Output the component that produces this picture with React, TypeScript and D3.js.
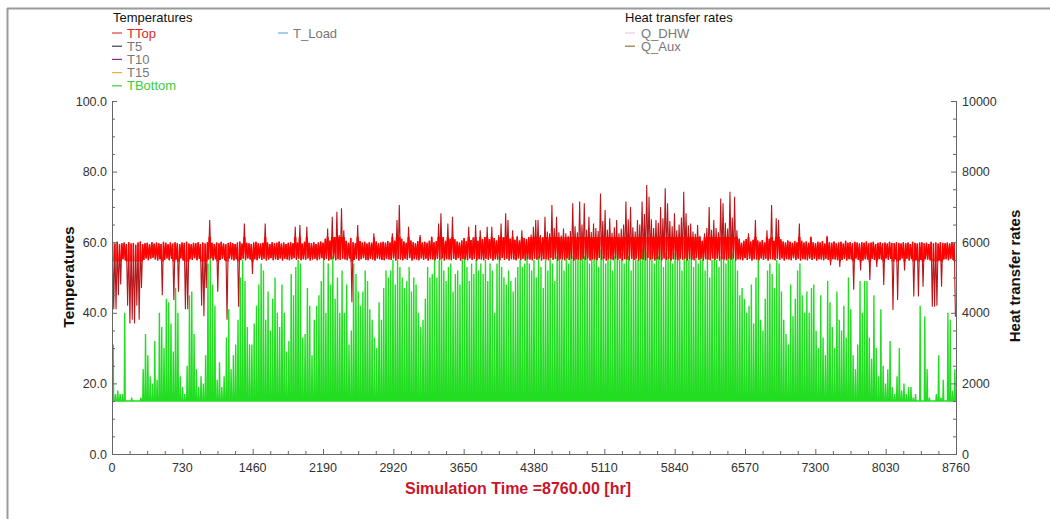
import React from "react";
import * as d3 from "d3";

// TRNSYS online plotter, one year of hourly output per day
const hoursInYear = 8760;
const xTicks = [0, 730, 1460, 2190, 2920, 3650, 4380, 5110, 5840, 6570, 7300, 8030, 8760];
const leftTicks = [0, 20, 40, 60, 80, 100];
const rightTicks = [0, 2000, 4000, 6000, 8000, 10000];

const tempSeries = ["TTop", "T5", "T10", "T15", "TBottom"];
const tempColors = ["#e03a3a", "#3a3a55", "#8a2a8a", "#f0b040", "#3ccc3c"];
const tempTextColors = ["#e02828", "#777777", "#777777", "#777777", "#3ccc3c"];
const heatSeries = ["Q_DHW", "Q_Aux"];
const heatColors = ["#f2c6e2", "#8b7a3a"];

// TBottom: minimum level and daily peak (deg C)
const tBottomBase = 15;
const tBottomPeak = [
  31, 17, 18, 17, 17, 40, 15, 15, 16, 15, 15, 15, 16, 24, 34, 28, 22, 20, 32, 21,
  40, 36, 30, 44, 43, 37, 29, 47, 40, 22, 19, 17, 25, 45, 46, 34, 24, 19, 22, 20,
  28, 54, 56, 48, 42, 21, 26, 19, 22, 33, 41, 24, 28, 31, 38, 50, 55, 49, 36, 31,
  31, 37, 42, 48, 54, 52, 38, 46, 35, 44, 50, 40, 36, 48, 40, 29, 32, 51, 45, 53,
  55, 54, 33, 34, 47, 42, 28, 38, 42, 45, 49, 56, 40, 54, 48, 56, 44, 50, 40, 52,
  40, 48, 31, 35, 54, 51, 46, 42, 46, 52, 49, 41, 38, 33, 30, 43, 38, 47, 52, 50,
  52, 55, 48, 55, 53, 50, 47, 49, 53, 46, 50, 48, 40, 36, 38, 44, 53, 50, 51, 55,
  50, 55, 56, 52, 49, 53, 54, 46, 51, 52, 48, 55, 56, 53, 49, 54, 51, 55, 52, 54,
  51, 55, 49, 54, 52, 40, 54, 56, 53, 50, 48, 52, 49, 46, 50, 53, 55, 53, 54, 56,
  54, 52, 55, 50, 56, 53, 47, 55, 52, 57, 54, 49, 56, 58, 55, 52, 57, 54, 58, 56,
  59, 57, 55, 60, 56, 58, 54, 61, 57, 55, 53, 58, 56, 54, 57, 55, 52, 56, 58, 55,
  57, 54, 58, 56, 52, 57, 59, 55, 60, 58, 61, 57, 55, 58, 54, 57, 56, 59, 53, 57,
  56, 58, 54, 57, 55, 59, 52, 56, 58, 55, 57, 53, 56, 54, 57, 55, 52, 56, 50, 55,
  57, 55, 53, 56, 58, 54, 60, 62, 57, 55, 52, 45, 47, 44, 40, 42, 48, 37, 50, 56,
  38, 35, 44, 52, 54, 51, 47, 55, 54, 46, 38, 34, 31, 48, 39, 44, 52, 54, 45, 40,
  46, 40, 47, 48, 35, 30, 45, 33, 28, 49, 43, 36, 30, 46, 38, 35, 42, 33, 50, 41,
  28, 24, 31, 49, 40, 49, 49, 33, 27, 45, 30, 22, 41, 25, 20, 24, 32, 19, 17, 22,
  30, 18, 20, 17, 19, 19, 16, 17, 15, 42, 15, 39, 24, 16, 15, 15, 17, 28, 16, 21,
  15, 40, 38, 18, 24,
];

// TTop: daily maximum and minimum (deg C)
const tTopHigh = [
  59.8, 59.6, 60.1, 59.4, 59.7, 59.9, 59.5, 60.0, 59.6, 59.8, 59.3, 59.9, 60.2, 59.5, 59.7, 59.8, 59.4, 60.0, 59.6, 59.9,
  59.7, 59.5, 60.1, 59.8, 59.4, 59.9, 59.6, 60.0, 59.7, 59.5, 59.9, 59.8, 60.1, 59.6, 59.4, 59.8, 59.7, 60.0, 59.5, 59.9,
  59.6, 60.0, 66.3, 59.8, 59.5, 59.9, 59.7, 60.1, 59.6, 59.4, 59.8, 60.0, 59.7, 59.5, 59.9, 60.2, 59.6, 65.3, 59.8, 59.7,
  59.5, 59.9, 60.1, 59.7, 59.6, 59.8, 65.3, 59.9, 59.5, 60.0, 59.7, 59.8, 60.2, 59.6, 59.9, 59.5, 59.8, 60.0, 59.7, 64.4,
  59.9, 64.9, 59.6, 60.1, 64.4, 59.8, 59.7, 60.0, 59.5, 59.9, 60.2, 59.8, 61.0, 63.9, 60.5, 67.2, 61.5, 68.6, 62.0, 69.6,
  63.4, 60.4, 59.8, 61.2, 60.0, 59.7, 64.9, 60.3, 59.9, 60.1, 59.6, 60.0, 59.8, 62.5, 60.2, 59.7, 59.9, 60.1, 59.8, 60.3,
  59.9, 62.5, 60.4, 66.3, 70.5, 61.0, 60.2, 59.8, 64.4, 60.5, 60.0, 59.7, 60.3, 62.0, 59.9, 60.1, 59.8, 60.4, 61.6, 60.0,
  60.3, 65.3, 68.2, 61.5, 60.4, 65.3, 61.0, 67.2, 60.8, 60.2, 59.9, 60.5, 61.2, 60.3, 64.4, 60.6, 61.3, 64.9, 60.4, 63.4,
  60.8, 61.5, 64.4, 60.9, 64.4, 61.2, 60.5, 62.0, 65.3, 61.4, 68.2, 66.3, 61.0, 63.4, 60.7, 61.8, 60.5, 63.4, 61.2, 60.9,
  61.5, 62.2, 64.4, 66.3, 66.3, 62.0, 61.4, 67.2, 63.0, 62.5, 70.5, 64.0, 67.2, 62.8, 61.9, 63.9, 62.5, 61.8, 63.2, 71.0,
  64.5, 62.8, 71.5, 65.0, 71.0, 63.5, 67.2, 62.9, 65.3, 64.0, 63.2, 73.8, 66.0, 69.1, 63.5, 66.8, 62.7, 64.2, 66.3, 62.5,
  63.8, 65.0, 71.5, 66.5, 70.0, 64.2, 63.0, 66.3, 65.0, 71.5, 68.0, 76.2, 72.9, 66.5, 64.0, 66.3, 65.5, 70.0, 66.8, 75.3,
  71.0, 66.0, 64.5, 68.2, 63.4, 65.0, 67.0, 74.3, 68.2, 64.8, 65.3, 63.0, 62.4, 64.9, 61.8, 60.4, 62.5, 64.0, 70.0, 63.5,
  66.3, 64.0, 62.8, 72.4, 71.0, 65.5, 63.9, 74.3, 67.0, 72.9, 63.4, 61.0, 59.8, 60.4, 60.9, 62.5, 60.2, 60.7, 66.3, 60.5,
  60.1, 60.6, 59.9, 63.4, 61.0, 70.5, 60.4, 66.8, 66.3, 60.8, 60.2, 59.9, 60.5, 60.1, 59.8, 60.3, 60.0, 65.3, 60.4, 59.9,
  60.2, 59.8, 61.6, 60.0, 59.7, 60.1, 59.9, 60.3, 59.6, 61.8, 60.0, 59.8, 60.2, 59.7, 59.9, 60.1, 59.6, 60.4, 59.8, 60.0,
  59.7, 60.1, 59.9, 59.6, 60.0, 59.8, 60.2, 59.7, 59.9, 60.1, 59.5, 59.8, 60.0, 59.7, 59.9, 59.6, 60.1, 59.8, 59.7, 60.0,
  59.8, 59.6, 60.0, 59.7, 59.9, 59.5, 60.1, 59.8, 59.6, 59.9, 60.0, 59.7, 59.8, 59.5, 60.1, 59.7, 59.9, 59.6, 60.0, 59.8,
  59.7, 59.9, 59.6, 60.0, 59.8,
];
const tTopLow = [
  41, 41, 45, 48, 55.2, 54.8, 42, 37, 38, 37, 42, 38, 47, 55.0, 55.4, 54.9, 55.3, 55.6, 55.1, 54.8,
  55.2, 45, 55.0, 55.4, 54.9, 55.3, 43.6, 55.1, 46, 55.4, 54.8, 41, 41, 55.2, 55.0, 55.5, 54.9, 55.3, 42, 39,
  47, 55.1, 55.4, 54.8, 55.2, 46, 55.0, 55.3, 54.9, 38, 55.4, 55.1, 54.8, 55.2, 41.7, 55.0, 55.3, 54.9, 55.4, 55.1,
  51, 55.2, 54.9, 55.4, 55.0, 55.3, 54.8, 55.1, 55.5, 54.9, 55.2, 55.0, 55.4, 54.8, 55.3, 55.1, 54.9, 55.2, 55.5, 55.0,
  55.3, 54.9, 55.2, 55.0, 55.4, 54.8, 55.1, 55.3, 54.9, 55.2, 55.5, 55.0, 55.3, 54.8, 55.1, 55.4, 54.9, 55.2, 55.0, 55.3,
  55.1, 54.9, 55.4, 43, 55.0, 55.3, 54.8, 55.2, 55.5, 55.0, 54.9, 55.3, 55.1, 54.8, 55.4, 55.2, 55.0, 54.9, 55.3, 55.1,
  55.0, 55.4, 54.8, 55.2, 55.1, 54.9, 55.3, 55.0, 55.5, 54.8, 55.2, 55.1, 54.9, 55.4, 55.0, 55.3, 54.8, 55.2, 55.1, 54.9,
  55.3, 55.0, 55.4, 54.8, 55.2, 55.1, 54.9, 55.3, 55.0, 55.5, 54.8, 55.2, 55.1, 54.9, 55.4, 55.0, 55.3, 54.8, 55.2, 55.1,
  54.9, 55.3, 55.0, 55.4, 54.8, 55.2, 55.1, 54.9, 55.5, 55.0, 55.3, 54.8, 55.2, 55.1, 54.9, 55.4, 55.0, 55.3, 54.8, 55.2,
  55.1, 54.9, 55.3, 55.0, 55.4, 54.8, 55.2, 55.1, 54.9, 55.5, 55.0, 55.3, 54.8, 55.2, 55.1, 54.9, 55.4, 55.0, 55.3, 54.8,
  55.2, 55.1, 54.9, 55.3, 55.0, 55.4, 54.8, 55.2, 55.1, 54.9, 55.5, 55.0, 55.3, 54.8, 55.2, 55.1, 54.9, 55.4, 55.0, 55.3,
  54.8, 55.2, 55.1, 54.9, 55.3, 55.0, 55.4, 54.8, 55.2, 55.1, 54.9, 55.5, 55.0, 55.3, 54.8, 55.2, 55.1, 54.9, 55.4, 55.0,
  55.3, 54.8, 55.2, 55.1, 54.9, 55.3, 55.0, 55.4, 54.8, 55.2, 55.1, 54.9, 55.5, 55.0, 55.3, 54.8, 55.2, 55.1, 54.9, 55.4,
  55.0, 55.3, 54.8, 55.2, 55.1, 54.9, 55.3, 55.0, 55.4, 54.8, 55.2, 55.1, 54.9, 55.5, 55.0, 55.3, 54.8, 55.2, 55.1, 54.9,
  55.4, 55.0, 55.3, 54.8, 55.2, 55.1, 54.9, 55.3, 55.0, 55.4, 54.8, 55.2, 55.1, 54.9, 55.5, 55.0, 55.3, 54.8, 55.2, 55.1,
  54.9, 55.4, 55.0, 55.3, 54.8, 55.2, 55.1, 54.9, 55.3, 55.0, 53.5, 55.2, 55.1, 54.9, 53.0, 55.0, 55.3, 54.8, 55.2, 55.1,
  46.5, 55.4, 55.0, 52.0, 54.8, 55.2, 55.1, 49.3, 55.3, 55.0, 53.0, 55.2, 55.1, 47.9, 55.4, 55.0, 55.3, 40.8, 55.2, 43.6,
  54.9, 55.4, 52.0, 55.3, 54.8, 55.2, 44.6, 54.9, 44.6, 55.0, 47.4, 55.2, 55.1, 54.9, 41.7, 41.7, 42.0, 54.8, 47.4, 55.1,
  55.2, 54.9, 55.3, 55.0, 38.9,
];

const W = 1050;
const H = 519;
const plot = { left: 112, right: 956, top: 101, bottom: 454 };
const font = "'Liberation Sans', Arial, sans-serif";

export default function App() {
  const x = d3.scaleLinear().domain([0, hoursInYear]).range([plot.left, plot.right]);
  const yL = d3.scaleLinear().domain([0, 100]).range([plot.bottom, plot.top]);
  const yR = d3.scaleLinear().domain([0, 10000]).range([plot.bottom, plot.top]);

  const line = d3
    .line<[number, number]>()
    .x((d) => x(d[0]))
    .y((d) => yL(d[1]));

  // each day: up to the peak and back down to the base
  const bottomPts: [number, number][] = tBottomPeak.flatMap((p, i) => [
    [i * 24 + 7, tBottomBase],
    [i * 24 + 12, p],
    [i * 24 + 17, tBottomBase],
  ]);
  // each day: the high then the low
  const topPts: [number, number][] = tTopHigh.flatMap((h, i) => [
    [i * 24 + 6, h],
    [i * 24 + 18, tTopLow[i]],
  ]);

  const leftMinor = d3.range(0, 100.01, 5).filter((v) => v % 20 !== 0);
  const rightMinor = d3.range(0, 10000.1, 500).filter((v) => v % 2000 !== 0);
  const xMinor = d3.range(0, hoursInYear + 1, 182.5).filter((v) => v % 730 !== 0);
  const fmt = d3.format(".1f");

  const rowY = (i: number) => 33 + i * 13.2;

  return (
    <svg
      width={W}
      height={H}
      viewBox={`0 0 ${W} ${H}`}
      style={{ position: "absolute", left: 0, top: 0, background: "#fff" }}
      fontFamily={font}
    >
      <defs>
        <clipPath id="plotClip">
          <rect x={plot.left} y={plot.top} width={plot.right - plot.left} height={plot.bottom - plot.top} />
        </clipPath>
        <clipPath id="bandClip">
          <rect x={plot.left} y={yL(61.5)} width={plot.right - plot.left} height={yL(54.5) - yL(61.5)} />
        </clipPath>
      </defs>

      {/* page frame */}
      <line x1={7.5} x2={7.5} y1={8} y2={H} stroke="#9a9a9a" strokeWidth={2} />
      <line x1={7} x2={W} y1={8.5} y2={8.5} stroke="#9a9a9a" strokeWidth={2} />

      {/* legend */}
      <text x={113} y={22} fontSize={13} fill="#111">Temperatures</text>
      {tempSeries.map((s, i) => (
        <g key={s}>
          <line x1={112} x2={122} y1={rowY(i)} y2={rowY(i)} stroke={tempColors[i]} strokeWidth={1.2} />
          <text x={127} y={rowY(i) + 4.6} fontSize={13} fill={tempTextColors[i]}>{s}</text>
        </g>
      ))}
      <line x1={278} x2={288} y1={rowY(0)} y2={rowY(0)} stroke="#6aaedc" strokeWidth={1.2} />
      <text x={293} y={rowY(0) + 4.6} fontSize={13} fill="#777">T_Load</text>

      <text x={625} y={22} fontSize={13} fill="#111">Heat transfer rates</text>
      {heatSeries.map((s, i) => (
        <g key={s}>
          <line x1={625} x2={635} y1={rowY(i)} y2={rowY(i)} stroke={heatColors[i]} strokeWidth={1.2} />
          <text x={641} y={rowY(i) + 4.6} fontSize={13} fill="#777">{s}</text>
        </g>
      ))}

      {/* series */}
      <g clipPath="url(#plotClip)" fill="none">
        <path d={line(bottomPts) ?? ""} stroke="#22dd22" strokeWidth={1.4} />
        <path d={line(topPts) ?? ""} stroke="#b8181c" strokeWidth={1.1} />
        <g clipPath="url(#bandClip)">
          <path d={line(topPts) ?? ""} stroke="#ff0000" strokeWidth={1.4} />
        </g>
      </g>

      {/* axes */}
      <g stroke="#666" strokeWidth={1}>
        <line x1={plot.left + 0.5} x2={plot.left + 0.5} y1={plot.top} y2={plot.bottom} />
        <line x1={plot.right + 0.5} x2={plot.right + 0.5} y1={plot.top} y2={plot.bottom} />
        <line x1={plot.left} x2={plot.right + 1} y1={plot.bottom + 0.5} y2={plot.bottom + 0.5} />
        {leftTicks.map((v) => (
          <line key={"lt" + v} x1={plot.left} x2={plot.left + 5} y1={yL(v) + 0.5} y2={yL(v) + 0.5} />
        ))}
        {leftMinor.map((v) => (
          <line key={"lm" + v} x1={plot.left} x2={plot.left + 3} y1={yL(v) + 0.5} y2={yL(v) + 0.5} />
        ))}
        {rightTicks.map((v) => (
          <line key={"rt" + v} x1={plot.right - 5} x2={plot.right} y1={yR(v) + 0.5} y2={yR(v) + 0.5} />
        ))}
        {rightMinor.map((v) => (
          <line key={"rm" + v} x1={plot.right - 3} x2={plot.right} y1={yR(v) + 0.5} y2={yR(v) + 0.5} />
        ))}
        {xTicks.map((v) => (
          <line key={"xt" + v} x1={x(v) + 0.5} x2={x(v) + 0.5} y1={plot.bottom} y2={plot.bottom - 5} />
        ))}
        {xMinor.map((v) => (
          <line key={"xm" + v} x1={x(v) + 0.5} x2={x(v) + 0.5} y1={plot.bottom} y2={plot.bottom - 3} />
        ))}
      </g>

      <g fontSize={12.5} fill="#333">
        {leftTicks.map((v) => (
          <text key={"ll" + v} x={107} y={yL(v) + 4.5} textAnchor="end">{fmt(v)}</text>
        ))}
        {rightTicks.map((v) => (
          <text key={"rl" + v} x={962} y={yR(v) + 4.5}>{v}</text>
        ))}
        {xTicks.map((v) => (
          <text key={"xl" + v} x={x(v)} y={472} textAnchor="middle">{v}</text>
        ))}
      </g>

      <text
        transform="translate(74,277) rotate(-90)"
        textAnchor="middle"
        fontSize={15.5}
        fontWeight="bold"
        fill="#111"
      >
        Temperatures
      </text>
      <text
        transform="translate(1020,276) rotate(-90)"
        textAnchor="middle"
        fontSize={15}
        fontWeight="bold"
        fill="#111"
      >
        Heat transfer rates
      </text>
      <text x={518} y={494} textAnchor="middle" fontSize={16} fontWeight="bold" fill="#cc1428">
        Simulation Time =8760.00 [hr]
      </text>
    </svg>
  );
}
